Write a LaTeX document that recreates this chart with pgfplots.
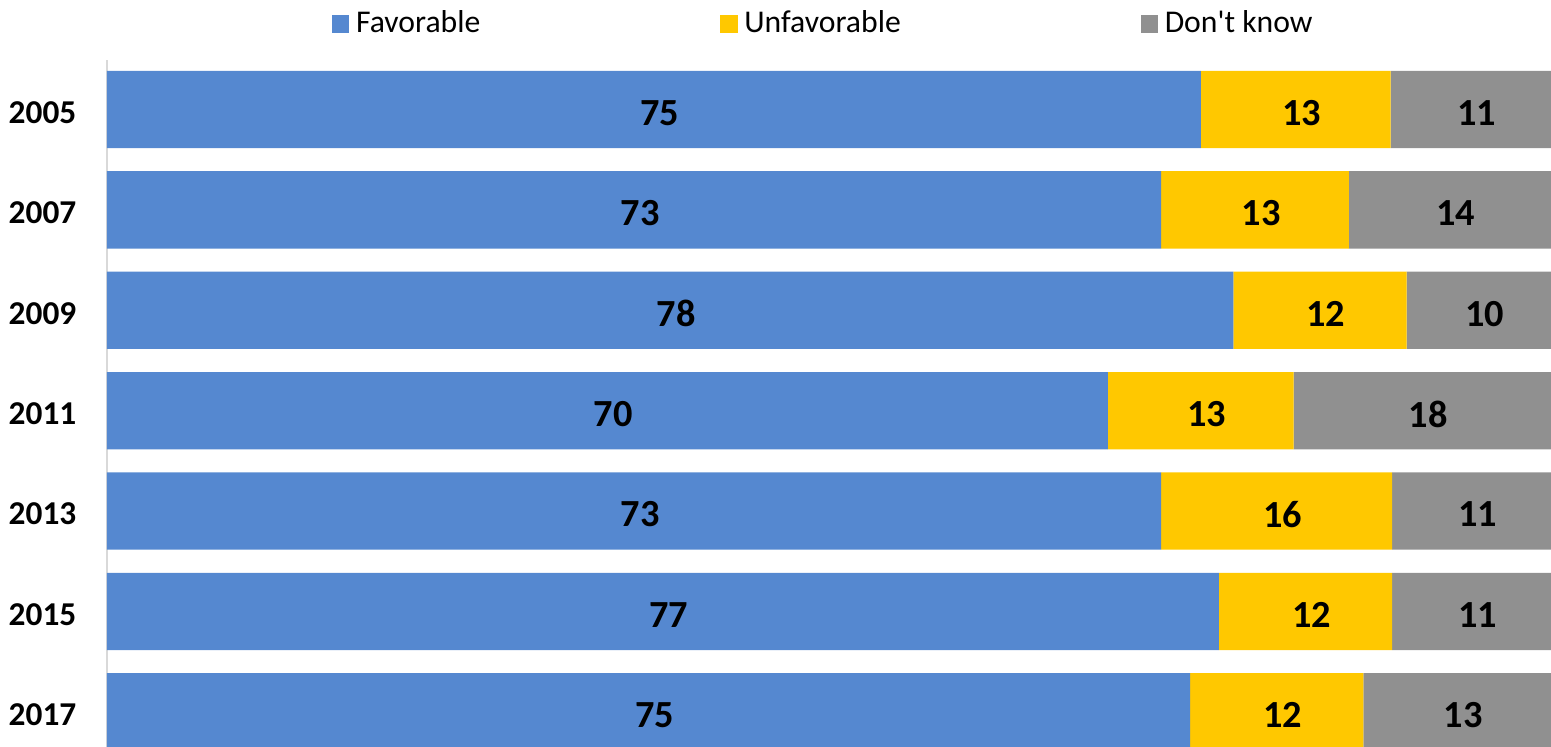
\documentclass[border=0pt]{standalone}
\usepackage{pgfplots}
\pgfplotsset{compat=1.18}
\usepackage{pgfplotstable}
\usepackage{fontspec}
\setmainfont{Carlito}

\definecolor{favblue}{HTML}{5588D0}
\definecolor{unfyellow}{HTML}{FFC800}
\definecolor{dkgray}{HTML}{909090}
\definecolor{axgray}{HTML}{D9D9D9}

% shares per survey year; bars are drawn as share of the row total
\pgfplotstableread{
idx fav unf dk tot
0 75 13 11 99
1 73 13 14 100
2 78 12 10 100
3 70 13 18 101
4 73 16 11 100
5 77 12 11 100
6 75 12 13 100
}\survey

\pgfplotsset{
  frame/.style={
    scale only axis, width=433.2pt, height=206.1pt,
    xmin=0, xmax=100, ymin=-0.493, ymax=6.35, y dir=reverse,
  },
}

\begin{document}
\begin{tikzpicture}
\begin{axis}[frame, name=main,
    xbar stacked, bar width=0.77,
    axis x line=none, axis y line*=left,
    y axis line style={axgray, line width=0.8pt},
    ytick={0,...,6},
    yticklabels={\textbf{2005},\textbf{2007},\textbf{2009},\textbf{2011},\textbf{2013},\textbf{2015},\textbf{2017}},
    major tick length=0pt,
    yticklabel style={font=\fontsize{10}{12}\selectfont, anchor=east, inner sep=0pt, xshift=-9pt, yshift=-0.9pt},
    legend columns=3,
    legend style={draw=none, fill=none, at={(0.5,1)}, anchor=center, yshift=10.8pt, xshift=-1pt,
      font=\fontsize{9.5}{11}\selectfont,
      /tikz/every even column/.append style={column sep=70pt}},
    legend image code/.code={\fill[#1] (0pt,-2.6pt) rectangle (5.2pt,2.6pt);},
  ]
  \addplot[fill=favblue, draw=none] table[x expr=\thisrow{fav}*100/\thisrow{tot}, y=idx]{\survey};
  \addplot[fill=unfyellow, draw=none] table[x expr=\thisrow{unf}*100/\thisrow{tot}, y=idx]{\survey};
  \addplot[fill=dkgray, draw=none] table[x expr=\thisrow{dk}*100/\thisrow{tot}, y=idx]{\survey};
  \legend{Favorable, Unfavorable, Don\textquotesingle t know}
\end{axis}
% value labels, centred in each segment
\begin{axis}[frame, hide axis,
    nodes near coords={\textbf{\pgfplotspointmeta}},
    point meta=explicit symbolic,
    every node near coord/.append style={anchor=center, xshift=1.8pt, yshift=-1pt,
      font=\fontsize{11.5}{13}\selectfont},
  ]
  \addplot[draw=none, mark=none] table[x expr=\thisrow{fav}*50/\thisrow{tot}, y=idx, meta=fav]{\survey};
  \addplot[draw=none, mark=none] table[x expr=(\thisrow{fav}+\thisrow{unf}/2)*100/\thisrow{tot}, y=idx, meta=unf]{\survey};
  \addplot[draw=none, mark=none] table[x expr=(\thisrow{fav}+\thisrow{unf}+\thisrow{dk}/2)*100/\thisrow{tot}, y=idx, meta=dk]{\survey};
\end{axis}
\pgfresetboundingbox
\path ([xshift=-32.1pt]main.south west) rectangle ([yshift=18pt]main.north east);
\end{tikzpicture}
\end{document}
